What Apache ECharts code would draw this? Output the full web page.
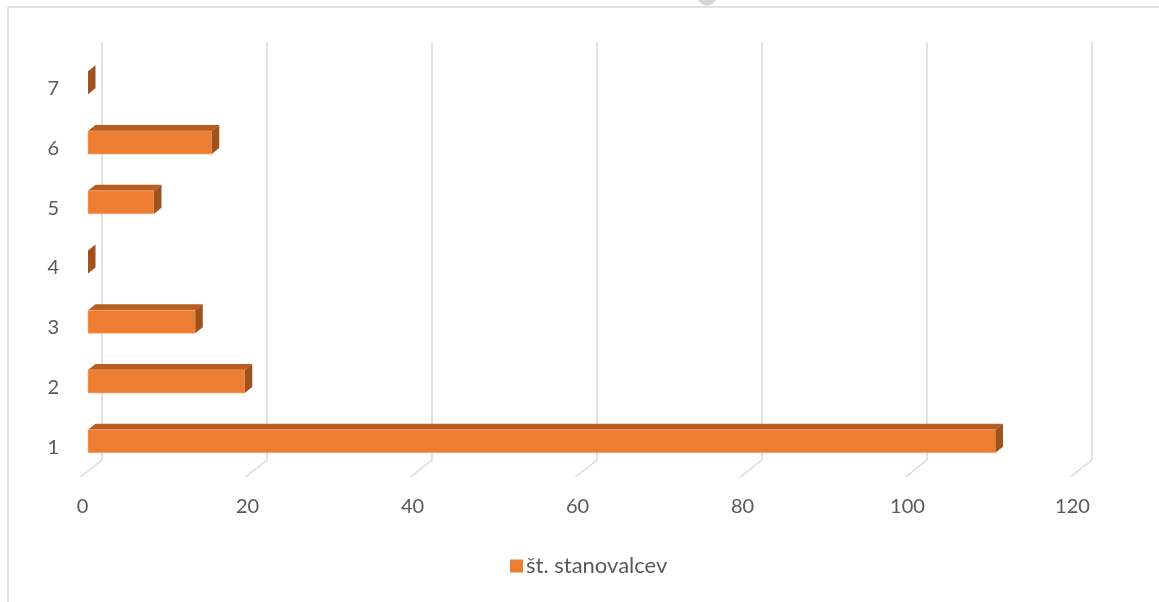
<!DOCTYPE html>
<html>
<head>
<meta charset="utf-8">
<script src="https://cdn.jsdelivr.net/npm/echarts@6/dist/echarts.min.js"></script>
<style>
html,body{margin:0;padding:0;background:#fff;}
#chart{width:1159px;height:602px;}
</style>
</head>
<body>
<div id="chart"></div>
<script>
// ---- data ----
var categories = ['1', '2', '3', '4', '5', '6', '7'];
var values = [110, 19, 13, 0, 8, 15, 0];
var seriesName = 'št. stanovalcev';
var xTicks = [0, 20, 40, 60, 80, 100, 120];

var FONT = 'Lato, "Open Sans", sans-serif';
var LABEL = '#595959';
var GRID = '#D9D9D9';

var chart = echarts.init(document.getElementById('chart'), null, {renderer: 'canvas'});

// 3D projection offsets (pixels)
var BAR_DX = -14, BAR_DY = 11, BAR_H = 23, DEPTH_X = 7.5, DEPTH_Y = 6;
var FLOOR_DX = -21.5, FLOOR_DY = 17;

var barData = values.map(function (v, i) { return [v, i]; });
var floorData = xTicks.map(function (t) { return [t]; });

var option = {
  animation: false,
  backgroundColor: '#fff',
  grid: [
    {left: 102, right: 67, top: 42, bottom: 142, containLabel: false},
    {left: 102, right: 67, top: 59, bottom: 125, containLabel: false}
  ],
  xAxis: [{
    type: 'value', min: 0, max: 120, interval: 20, gridIndex: 0,
    axisLine: {show: false}, axisTick: {show: false},
    splitLine: {show: true, lineStyle: {color: GRID, width: 1.5}},
    axisLabel: {
      color: LABEL, fontFamily: FONT, fontSize: 20,
      margin: 47, verticalAlign: 'middle', lineHeight: 20,
      padding: [0, 39, 0, 0]
    }
  }, {
    type: 'value', min: 0, max: 120, interval: 20, gridIndex: 1, show: false
  }],
  yAxis: [{
    type: 'category', data: categories, gridIndex: 0,
    axisLine: {show: false}, axisTick: {show: false},
    splitLine: {show: false}, axisLabel: {show: false}
  }, {
    type: 'category', data: categories, gridIndex: 1,
    axisLine: {show: false}, axisTick: {show: false},
    splitLine: {show: false},
    axisLabel: {color: LABEL, fontFamily: FONT, fontSize: 20, margin: 43}
  }],
  legend: {
    show: true, left: 510, top: 555, padding: 0,
    itemWidth: 13, itemHeight: 13, itemGap: 10, icon: 'rect',
    textStyle: {color: LABEL, fontFamily: FONT, fontSize: 22, lineHeight: 22, padding: [0, 0, 0, -2]},
    data: [seriesName]
  },
  graphic: [
    {type: 'line', shape: {x1: 8, y1: 7, x2: 1159, y2: 7}, style: {stroke: GRID, lineWidth: 1.5}, silent: true},
    {type: 'line', shape: {x1: 8, y1: 7, x2: 8, y2: 602}, style: {stroke: GRID, lineWidth: 1.5}, silent: true},
    {type: 'circle', shape: {cx: 707, cy: -4, r: 9.5}, style: {fill: '#D6D6D6'}, silent: true}
  ],
  series: [
    {
      name: 'floor', type: 'custom', silent: true, legendHoverLink: false,
      xAxisIndex: 0, yAxisIndex: 0,
      data: floorData,
      encode: {x: 0},
      renderItem: function (params, api) {
        var cs = params.coordSys;
        var p = api.coord([api.value(0), 0]);
        var yb = cs.y + cs.height;
        return {
          type: 'line',
          shape: {x1: p[0], y1: yb, x2: p[0] + FLOOR_DX, y2: yb + FLOOR_DY},
          style: {stroke: GRID, lineWidth: 1.5}
        };
      },
      z: 1
    },
    {
      name: seriesName, type: 'custom',
      xAxisIndex: 0, yAxisIndex: 0,
      itemStyle: {color: '#ED7D31'},
      data: barData,
      encode: {x: 0, y: 1},
      renderItem: function (params, api) {
        var v = api.value(0), c = api.value(1);
        var s = api.coord([0, c]);
        var e = api.coord([v, c]);
        var x0 = s[0] + BAR_DX, x1 = e[0] + BAR_DX;
        var yc = s[1] + BAR_DY;
        var yt = yc - BAR_H / 2, yb = yc + BAR_H / 2;
        var children = [];
        if (x1 - x0 > 0.5) {
          children.push({
            type: 'polygon',
            shape: {points: [[x0, yt], [x1, yt], [x1 + DEPTH_X, yt - DEPTH_Y], [x0 + DEPTH_X, yt - DEPTH_Y]]},
            style: {fill: '#B85C20'}
          });
          children.push({
            type: 'rect',
            shape: {x: x0, y: yt, width: x1 - x0, height: BAR_H},
            style: {fill: '#ED7D31', stroke: '#F5B080', lineWidth: 0.6}
          });
        }
        children.push({
          type: 'polygon',
          shape: {points: [[x1, yt], [x1 + DEPTH_X, yt - DEPTH_Y], [x1 + DEPTH_X, yb - DEPTH_Y], [x1, yb]]},
          style: {fill: '#A0521C'}
        });
        return {type: 'group', children: children};
      },
      z: 2
    }
  ]
};
chart.setOption(option);
</script>
</body>
</html>
